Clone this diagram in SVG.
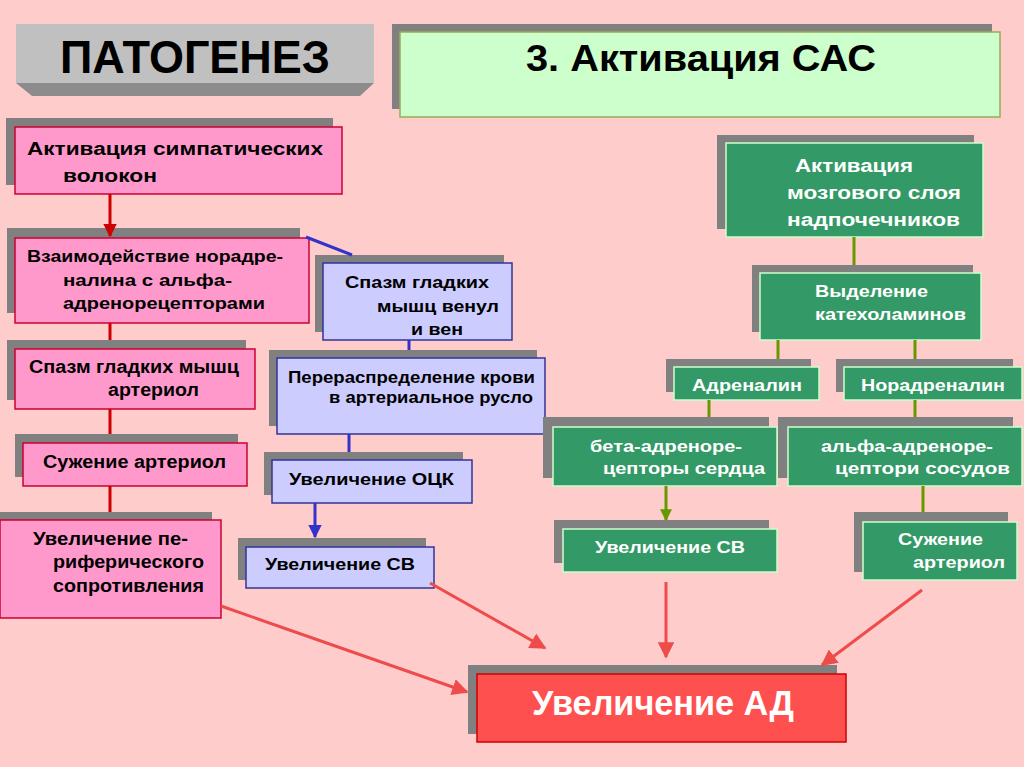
<svg xmlns="http://www.w3.org/2000/svg" width="1024" height="767" viewBox="0 0 1024 767">
<style>
.sh{fill:#808080}
.pk{fill:#FF99CC;stroke:#CC0033;stroke-width:1.5}
.lv{fill:#CCCCFF;stroke:#333399;stroke-width:1.5}
.gr{fill:#339966;stroke:#CCFFCC;stroke-width:1.5}
.t{font-family:"Liberation Sans",Arial,sans-serif;font-weight:bold;fill:#000}
.w{fill:#FFFFFF}
.s18{font-size:18px}
.s17{font-size:17px}
.s16{font-size:16px}
.cr{stroke:#CC0000;stroke-width:3;fill:none}
.cb{stroke:#3333CC;stroke-width:3;fill:none}
.co{stroke:#669900;stroke-width:3;fill:none}
.ca{stroke:#EE4B4B;stroke-width:3;fill:none}
</style>
<defs>
<marker id="ar" viewBox="0 0 10 10" refX="9" refY="5" markerWidth="4.5" markerHeight="4.5" orient="auto" markerUnits="strokeWidth"><path d="M0,0 L10,5 L0,10 z" fill="#CC0000"/></marker>
<marker id="ab" viewBox="0 0 10 10" refX="9" refY="5" markerWidth="4.5" markerHeight="4.5" orient="auto" markerUnits="strokeWidth"><path d="M0,0 L10,5 L0,10 z" fill="#3333CC"/></marker>
<marker id="ao" viewBox="0 0 10 10" refX="9" refY="5" markerWidth="4" markerHeight="4" orient="auto" markerUnits="strokeWidth"><path d="M0,0 L10,5 L0,10 z" fill="#669900"/></marker>
<marker id="aa" viewBox="0 0 10 10" refX="9" refY="5" markerWidth="5.5" markerHeight="5.5" orient="auto" markerUnits="strokeWidth"><path d="M0,0 L10,5 L0,10 z" fill="#EE4B4B"/></marker>
</defs>
<rect x="0" y="0" width="1024" height="767" fill="#FFCCCC"/>

<g id="header">
<rect x="16" y="24" width="358" height="59" fill="#C0C0C0"/>
<polygon points="16,83 374,83 360,96 32,96" fill="#8C8C8C"/>
<text class="t" x="60" y="73" font-size="46" textLength="270" lengthAdjust="spacingAndGlyphs">ПАТОГЕНЕЗ</text>
</g>

<g id="title">
<rect x="392" y="24" width="600" height="85" class="sh"/>
<rect x="400" y="32" width="600" height="85" fill="#CCFFCC" stroke="#99AA55" stroke-width="1.5"/>
<text class="t" x="526" y="71" font-size="36" textLength="350" lengthAdjust="spacingAndGlyphs">3. Активация САС</text>
</g>

<g id="symp">
<rect x="6" y="118" width="327" height="67" class="sh"/>
<rect x="15" y="127" width="327" height="67" class="pk"/>
<text class="t s18" x="27" y="155" textLength="296" lengthAdjust="spacingAndGlyphs">Активация симпатических</text>
<text class="t s18" x="63" y="182" textLength="94" lengthAdjust="spacingAndGlyphs">волокон</text>
</g>

<g id="vzaim">
<rect x="7" y="228" width="293" height="85" class="sh"/>
<rect x="15" y="238" width="294" height="85" class="pk"/>
<text class="t s17" x="27" y="262" textLength="256" lengthAdjust="spacingAndGlyphs">Взаимодействие норадре-</text>
<text class="t s17" x="63" y="286" textLength="169" lengthAdjust="spacingAndGlyphs">налина с альфа-</text>
<text class="t s17" x="63" y="309" textLength="202" lengthAdjust="spacingAndGlyphs">адренорецепторами</text>
</g>

<g id="spazm-art">
<rect x="7" y="340" width="239" height="60" class="sh"/>
<rect x="15" y="349" width="240" height="60" class="pk"/>
<text class="t s18" x="29" y="373" textLength="210" lengthAdjust="spacingAndGlyphs">Спазм гладких мышц</text>
<text class="t s18" x="108" y="396" textLength="91" lengthAdjust="spacingAndGlyphs">артериол</text>
</g>

<g id="suzh-art">
<rect x="15" y="434" width="223" height="43" class="sh"/>
<rect x="23" y="443" width="224" height="43" class="pk"/>
<text class="t s18" x="43" y="468" textLength="183" lengthAdjust="spacingAndGlyphs">Сужение артериол</text>
</g>

<g id="perif">
<rect x="0" y="512" width="212" height="97" class="sh"/>
<rect x="0" y="520" width="221" height="98" class="pk"/>
<text class="t s18" x="33" y="545" textLength="155" lengthAdjust="spacingAndGlyphs">Увеличение пе-</text>
<text class="t s18" x="53" y="568" textLength="151" lengthAdjust="spacingAndGlyphs">риферического</text>
<text class="t s18" x="53" y="592" textLength="151" lengthAdjust="spacingAndGlyphs">сопротивления</text>
</g>

<g id="spazm-ven">
<rect x="315" y="255" width="189" height="77" class="sh"/>
<rect x="323" y="263" width="189" height="77" class="lv"/>
<text class="t s17" x="345" y="288" textLength="144" lengthAdjust="spacingAndGlyphs">Спазм гладких</text>
<text class="t s17" x="377" y="312" textLength="122" lengthAdjust="spacingAndGlyphs">мышц венул</text>
<text class="t s17" x="411" y="335" textLength="52" lengthAdjust="spacingAndGlyphs">и вен</text>
</g>

<g id="pereraspr">
<rect x="269" y="350" width="268" height="76" class="sh"/>
<rect x="277" y="358" width="268" height="76" class="lv"/>
<text class="t s16" x="288" y="383" textLength="247" lengthAdjust="spacingAndGlyphs">Перераспределение крови</text>
<text class="t s16" x="329" y="403" textLength="204" lengthAdjust="spacingAndGlyphs">в артериальное русло</text>
</g>

<g id="ock">
<rect x="264" y="452" width="199" height="43" class="sh"/>
<rect x="272" y="460" width="200" height="43" class="lv"/>
<text class="t s17" x="289" y="485" textLength="165" lengthAdjust="spacingAndGlyphs">Увеличение ОЦК</text>
</g>

<g id="sv-left">
<rect x="238" y="538" width="188" height="42" class="sh"/>
<rect x="246" y="547" width="188" height="41" class="lv"/>
<text class="t s17" x="265" y="570" textLength="150" lengthAdjust="spacingAndGlyphs">Увеличение СВ</text>
</g>

<g id="mozg">
<rect x="717" y="135" width="257" height="94" class="sh"/>
<rect x="726" y="143" width="257" height="94" class="gr"/>
<text class="t s18 w" x="795" y="172" textLength="118" lengthAdjust="spacingAndGlyphs">Активация</text>
<text class="t s18 w" x="787" y="199" textLength="174" lengthAdjust="spacingAndGlyphs">мозгового слоя</text>
<text class="t s18 w" x="787" y="226" textLength="173" lengthAdjust="spacingAndGlyphs">надпочечников</text>
</g>

<g id="vydel">
<rect x="752" y="265" width="221" height="67" class="sh"/>
<rect x="760" y="273" width="221" height="67" class="gr"/>
<text class="t s17 w" x="815" y="297" textLength="113" lengthAdjust="spacingAndGlyphs">Выделение</text>
<text class="t s17 w" x="815" y="320" textLength="151" lengthAdjust="spacingAndGlyphs">катехоламинов</text>
</g>

<g id="adren">
<rect x="666" y="359" width="145" height="33" class="sh"/>
<rect x="674" y="367" width="145" height="33" class="gr"/>
<text class="t s17 w" x="692" y="391" textLength="110" lengthAdjust="spacingAndGlyphs">Адреналин</text>
</g>

<g id="noradren">
<rect x="836" y="359" width="177" height="33" class="sh"/>
<rect x="844" y="367" width="178" height="33" class="gr"/>
<text class="t s17 w" x="861" y="391" textLength="144" lengthAdjust="spacingAndGlyphs">Норадреналин</text>
</g>

<g id="beta">
<rect x="543" y="417" width="226" height="61" class="sh"/>
<rect x="553" y="427" width="224" height="59" class="gr"/>
<text class="t s17 w" x="590" y="452" textLength="152" lengthAdjust="spacingAndGlyphs">бета-адреноре-</text>
<text class="t s17 w" x="603" y="474" textLength="162" lengthAdjust="spacingAndGlyphs">цепторы сердца</text>
</g>

<g id="alfa">
<rect x="778" y="417" width="235" height="61" class="sh"/>
<rect x="788" y="427" width="234" height="59" class="gr"/>
<text class="t s17 w" x="821" y="452" textLength="172" lengthAdjust="spacingAndGlyphs">альфа-адреноре-</text>
<text class="t s17 w" x="835" y="474" textLength="175" lengthAdjust="spacingAndGlyphs">цептори сосудов</text>
</g>

<g id="sv-right">
<rect x="554" y="520" width="215" height="43" class="sh"/>
<rect x="563" y="529" width="214" height="43" class="gr"/>
<text class="t s17 w" x="595" y="553" textLength="150" lengthAdjust="spacingAndGlyphs">Увеличение СВ</text>
</g>

<g id="suzh-right">
<rect x="854" y="512" width="154" height="60" class="sh"/>
<rect x="863" y="522" width="154" height="58" class="gr"/>
<text class="t s17 w" x="898" y="545" textLength="85" lengthAdjust="spacingAndGlyphs">Сужение</text>
<text class="t s17 w" x="913" y="568" textLength="92" lengthAdjust="spacingAndGlyphs">артериол</text>
</g>

<g id="ad">
<rect x="468" y="665" width="369" height="69" class="sh"/>
<rect x="477" y="674" width="369" height="68" fill="#FF5050" stroke="#CC0000" stroke-width="1.5"/>
<text class="t w" x="532" y="715" font-size="35" textLength="262" lengthAdjust="spacingAndGlyphs">Увеличение АД</text>
</g>

<g id="connectors">
<line class="cr" x1="110" y1="194" x2="110" y2="236" marker-end="url(#ar)"/>
<line class="cr" x1="110" y1="323" x2="110" y2="340"/>
<line class="cr" x1="110" y1="409" x2="110" y2="434"/>
<line class="cr" x1="110" y1="486" x2="110" y2="512"/>
<line class="cb" x1="306" y1="237" x2="352" y2="255"/>
<line class="cb" x1="409" y1="340" x2="409" y2="350"/>
<line class="cb" x1="349" y1="434" x2="349" y2="452"/>
<line class="cb" x1="315" y1="503" x2="315" y2="537" marker-end="url(#ab)"/>
<line class="co" x1="854" y1="237" x2="854" y2="265"/>
<line class="co" x1="778" y1="340" x2="778" y2="359"/>
<line class="co" x1="915" y1="340" x2="915" y2="359"/>
<line class="co" x1="709" y1="400" x2="709" y2="417"/>
<line class="co" x1="915" y1="400" x2="915" y2="417"/>
<line class="co" x1="666" y1="486" x2="666" y2="520" marker-end="url(#ao)"/>
<line class="co" x1="923" y1="486" x2="923" y2="512"/>
<line class="ca" x1="221" y1="606" x2="467" y2="692" marker-end="url(#aa)"/>
<line class="ca" x1="430" y1="583" x2="545" y2="648" marker-end="url(#aa)"/>
<line class="ca" x1="666" y1="582" x2="666" y2="657" marker-end="url(#aa)"/>
<line class="ca" x1="922" y1="590" x2="822" y2="665" marker-end="url(#aa)"/>
</g>
</svg>
